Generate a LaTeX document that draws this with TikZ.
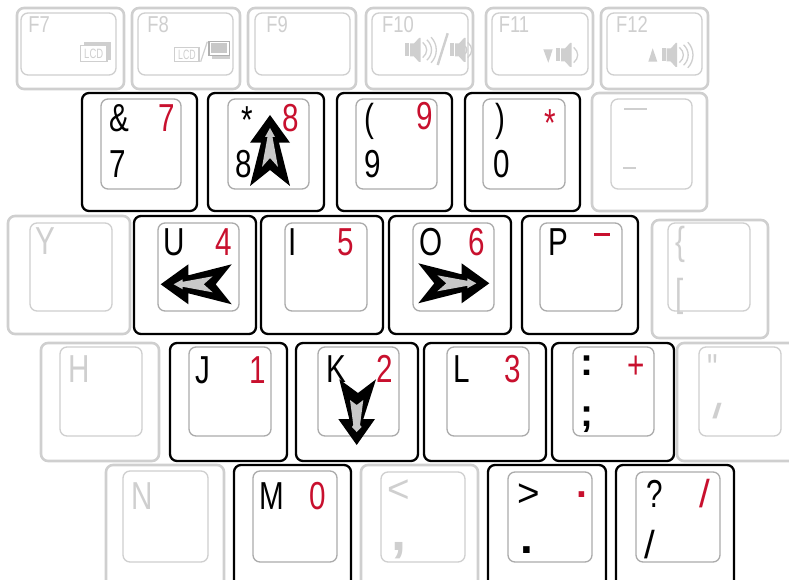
\documentclass[tikz,border=0pt]{standalone}
\usepackage{fontspec}
\setmainfont{Liberation Sans}
\newfontfamily\plainf{Liberation Sans}
\definecolor{keyred}{HTML}{C8102E}
\definecolor{lgray}{HTML}{CFCFCF}
\definecolor{igray}{HTML}{ABABAB}
\definecolor{agray}{HTML}{C8C8C8}
\newcommand{\bigf}{\fontsize{39}{39}\selectfont}
\newcommand{\fkeyf}{\fontsize{23}{23}\selectfont}
\newcommand{\boldf}{\fontsize{39}{39}\selectfont\bfseries}
\tikzset{
  outerbk/.style={draw=black,line width=2.3pt,rounded corners=7pt,fill=white},
  outergy/.style={draw=lgray,line width=2.6pt,rounded corners=7pt,fill=white},
  innerbk/.style={draw=igray,line width=1.3pt,rounded corners=7pt},
  innergy/.style={draw=lgray,line width=1.3pt,rounded corners=7pt},
  lbl/.style={anchor=base,inner sep=0pt,xscale=.76,font=\bigf},
  flbl/.style={anchor=base,inner sep=0pt,xscale=.8,font=\fkeyf,text=lgray},
  bl/.style={lbl,text=black},
  rd/.style={lbl,text=keyred},
  gy/.style={lbl,text=lgray},
  blb/.style={anchor=base,inner sep=0pt,font=\boldf,text=black},
  rdb/.style={anchor=base,inner sep=0pt,font=\boldf,text=keyred},
  gyb/.style={anchor=base,inner sep=0pt,font=\boldf,text=lgray},
  speakerpart/.style={fill=lgray,draw=none},
  wave/.style={draw=lgray,line width=1.3pt}
}
\newcommand{\keyface}[6]{%
  \draw[outer#1] (#2) rectangle (#3);
  \draw[inner#1] (#4) rectangle (#5);
}
\newcommand{\keyarrow}[3]{%
  \begin{scope}[shift={(#1,#2)},rotate=#3]
    \fill[black] (0,0) -- (20,27.7) -- (9,27.7) -- (20,71) -- (0,55) -- (-20,71) -- (-9,27.7) -- (-20,27.7) -- cycle;
    \fill[agray] (0,13) -- (5,22) -- (2.5,22) -- (8,52) -- (0,43) -- (-8,52) -- (-2.5,22) -- (-5,22) -- cycle;
  \end{scope}
}
\newcommand{\speaker}[3]{%
  \begin{scope}[shift={(#1,#2)}]
    \fill[speakerpart] (0,-6.5) rectangle (3.8,6.5);
    \fill[speakerpart] (5,-6.5) -- (9,-6.5) -- (14,-12) -- (15.5,-12) -- (15.5,12) -- (14,12) -- (9,6.5) -- (5,6.5) -- cycle;
    \foreach \r in {1,...,#3} {
      \draw[wave] ({13.5+4.2*\r},{-5-2.6*\r}) .. controls ({18+5*\r},{-2-1.2*\r}) and ({18+5*\r},{2+1.2*\r}) .. ({13.5+4.2*\r},{5+2.6*\r});
    }
  \end{scope}
}
\begin{document}
\begin{tikzpicture}[x=1pt,y=-1pt]
\useasboundingbox (0,0) rectangle (789,580);
\clip (0,0) rectangle (789,580);
% row 1
\keyface{gy}{17,8}{124,89}{21,13}{116,75}{}
\keyface{gy}{132,8}{240,89}{138,13}{233,75}{}
\keyface{gy}{248,8}{356,89}{255,13}{350,75}{}
\keyface{gy}{366,8}{473,89}{372,13}{468,75}{}
\keyface{gy}{486,8}{593,89}{492,13}{588,75}{}
\keyface{gy}{601,8}{708,89}{607,13}{702,75}{}
\node[flbl] (f7) at (39,32.7) {F7};
\node[flbl] (f8) at (158,32.7) {F8};
\node[flbl] (f9) at (277,32.7) {F9};
\node[flbl] (f10) at (398,32.7) {F10};
\node[flbl] (f11) at (514,32.7) {F11};
\node[flbl] (f12) at (632,32.7) {F12};
% LCD icons
\fill[lgray] (84,42) rectangle (110.7,60);
\draw[draw=lgray,fill=white,line width=1.2pt] (80.5,45.5) rectangle (107,61.3);
\node[anchor=center,inner sep=0pt,xscale=.7,font=\fontsize{13.5}{13.5}\selectfont,text=lgray] (lcda) at (93.7,53.6) {LCD};
\draw[draw=lgray,fill=white,line width=1.2pt] (174.8,47.2) rectangle (199,61.3);
\node[anchor=center,inner sep=0pt,xscale=.65,font=\fontsize{13.5}{13.5}\selectfont,text=lgray] (lcdb) at (187,54.4) {LCD};
\draw[lgray,line width=1.2pt] (200.7,61.7) -- (207.3,41.7);
\fill[lgray!85!black] (208.3,40.7) rectangle (230,56);
\fill[lgray] (212,56) rectangle (229.5,59.5);
\fill[white] (209.6,42) rectangle (228.7,54.8);
\fill[agray] (211,43.4) rectangle (227.3,53.4);
% speakers
\speaker{405}{50}{3}
\draw[lgray,line width=2.4pt] (447.7,33.3) -- (437.7,65);
\speaker{450}{50}{0}
\fill[lgray] (543.3,49.3) -- (552.7,49.3) -- (548.3,62.7) -- cycle;
\speaker{556}{55}{1}
\fill[lgray] (648.3,61.7) -- (657.3,61.7) -- (652.7,48.3) -- cycle;
\speaker{661.7}{55}{3}
% row 2
\keyface{bk}{82,93}{197,211}{101,99}{181,189}{}
\keyface{bk}{208,93}{324,211}{228,99}{309,189}{}
\keyface{bk}{337,93}{452,211}{356,99}{437,189}{}
\keyface{bk}{465,93}{580,211}{483,99}{565,189}{}
\keyface{gy}{592,93}{707,211}{611,99}{692,189}{}
\node[bl] (amp) at (119,132) {\&};
\node[rd] (r7) at (167,132) {7};
\node[bl] (n7) at (118,178) {7};
\node[bl] (star) at (247,134) {*};
\node[rd] (r8) at (291,132) {8};
\node[bl] (n8) at (244,178) {8};
\node[bl] (lp) at (369,132) {(};
\node[rd] (r9) at (425,130) {9};
\node[bl] (n9) at (373,178) {9};
\node[bl] (rp) at (500,132) {)};
\node[rd] (rstar) at (550,137) {*};
\node[bl] (n0) at (502,178) {0};
\fill[lgray] (624,108) rectangle (647,110.5);
\fill[lgray] (623,167) rectangle (636,169.5);
\keyarrow{270}{115}{0}
% row 3
\keyface{gy}{8,216}{130,334}{30,223}{112,311}{}
\keyface{bk}{134,216}{256,334}{158,223}{239,311}{}
\keyface{bk}{261,216}{383,334}{285,223}{367,311}{}
\keyface{bk}{389,216}{511,334}{413,223}{494,311}{}
\keyface{bk}{522,216}{638,334}{540,223}{622,311}{}
\keyface{gy}{652,220}{768,338}{668,223}{750,311}{}
\node[gy] (y) at (45,254) {Y};
\node[bl] (u) at (174,255) {U};
\node[rd] (r4) at (224,255) {4};
\node[bl] (i) at (293,255) {I};
\node[rd] (r5) at (346,255) {5};
\node[bl] (o) at (431,255) {O};
\node[rd] (r6) at (477,255) {6};
\node[bl] (p) at (558,255) {P};
\fill[keyred] (594,232.5) rectangle (610,236);
\node[gy] (lb) at (680,254) {\{};
\node[gy] (lk) at (680,306) {[};
\keyarrow{160.7}{284.3}{90}
\keyarrow{489.3}{283.3}{-90}
% row 4
\keyface{gy}{41,343}{159,461}{60,347}{142,436}{}
\keyface{bk}{170,343}{287,461}{189,347}{271,436}{}
\keyface{bk}{296,343}{418,461}{318,347}{399,436}{}
\keyface{bk}{424,343}{546,461}{447,347}{529,436}{}
\keyface{bk}{552,343}{674,461}{573,347}{654,436}{}
\keyface{gy}{677,343}{810,461}{699,347}{781,436}{}
\node[gy] (h) at (79,382) {H};
\node[bl] (j) at (203,383) {J};
\node[rd] (r1) at (258,383) {1};
\node[bl] (k) at (336,382) {K};
\node[rd] (r2) at (385,382) {2};
\node[bl] (l) at (462,382) {L};
\node[rd] (r3) at (513,382) {3};
\node[blb] (colon) at (586.7,375) {:};
\node[blb] (semi) at (586.7,426) {;};
\node[rd] (plus) at (636,378) {+};
\node[gy,font=\bigf\plainf] (dq) at (712.5,381) {"};
\node[anchor=base,inner sep=0pt,xscale=1.7,font=\fontsize{21}{21}\selectfont\bfseries,text=lgray] (gslash) at (717,418) {/};
\fill[black] (356.7,445) -- (375,419) -- (363.3,419) -- (376,379.3) -- (358,393) -- (339.3,379.3) -- (349.3,419) -- (338.3,419) -- cycle;
\fill[agray] (356.7,432) -- (361.7,427) -- (360,425) -- (363.3,400) -- (356.7,405) -- (350,400) -- (353.3,425) -- (352,427) -- cycle;
% row 5
\keyface{gy}{106,465}{224,600}{123,471}{208,562}{}
\keyface{bk}{234,465}{351,600}{253,471}{337,562}{}
\keyface{gy}{361,465}{478,600}{381,472}{465,562}{}
\keyface{bk}{488,465}{606,600}{508,472}{592,562}{}
\keyface{bk}{616,465}{734,600}{636,472}{720,562}{}
\node[gy] (n) at (142,509) {N};
\node[bl] (m) at (272,509) {M};
\node[rd] (r0) at (318,509) {0};
\node[gy,xscale=1.3] (lt) at (399,502) {<};
\node[gyb,font=\fontsize{54}{54}\selectfont\bfseries] (comma) at (399,550) {,};
\node[bl,xscale=1.3] (gt) at (529,506) {>};
\node[rdb] (rdot) at (582,497) {.};
\node[blb,font=\fontsize{46}{46}\selectfont\bfseries] (dot) at (526.5,553) {.};
\node[bl] (qm) at (655,507) {?};
\node[rd,xscale=1.3] (rslash) at (705,507.5) {/};
\node[bl,xscale=1.3] (bslash) at (650,558.5) {/};
\end{tikzpicture}
\end{document}
